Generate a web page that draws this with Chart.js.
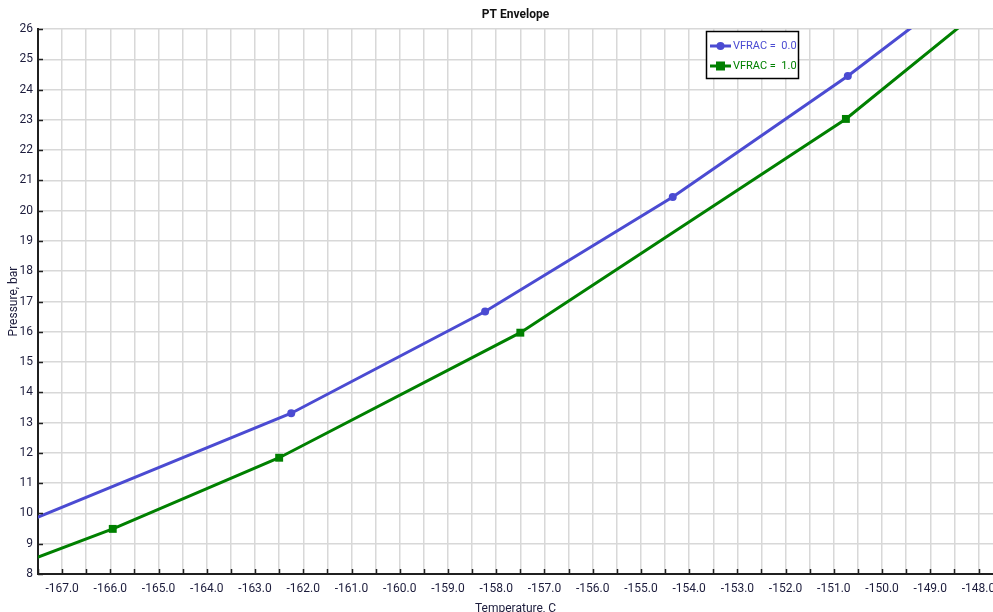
<!DOCTYPE html>
<html>
<head>
<meta charset="utf-8">
<title>PT Envelope</title>
<script src="https://cdn.jsdelivr.net/npm/chart.js@4/dist/chart.umd.min.js"></script>
<style>
  html, body { margin: 0; padding: 0; background: #ffffff; }
  #wrap { width: 993px; height: 612px; position: relative; }
</style>
</head>
<body>
<div id="wrap"><canvas id="chart" width="993" height="612"></canvas></div>
<script>
// Phase envelope: bubble line (VFRAC = 0.0) and dew line (VFRAC = 1.0)
const bubbleTemp  = [-168.0, -162.25, -158.23, -154.34, -150.71, -149.0];
const bubblePress = [9.55, 13.31, 16.67, 20.45, 24.45, 26.52];
const bubbleMarks = [false, true, true, true, true, false];

const dewTemp  = [-168.0, -165.95, -162.50, -157.50, -150.75, -148.0];
const dewPress = [8.26, 9.49, 11.84, 15.97, 23.03, 26.58];
const dewMarks = [false, true, true, true, true, false];

const seriesNames = ['VFRAC =  0.0', 'VFRAC =  1.0'];
const chartTitle = 'PT Envelope';
const xTitle = 'Temperature, C';
const yTitle = 'Pressure, bar';

const FONT = "Roboto, 'Liberation Sans', sans-serif";
const BLUE = '#4b4bd2';
const GREEN = '#008000';
const TEXT = '#1c1c3c';

function pts(xs, ys) { return xs.map((x, i) => ({ x: x, y: ys[i] })); }

// Inward tick marks, titles and the boxed legend drawn onto the canvas
const decorations = {
  id: 'decorations',
  afterDraw(chart) {
    const ctx = chart.ctx;
    const a = chart.chartArea;
    const xs = chart.scales.x, ys = chart.scales.y;
    ctx.save();
    // tick marks pointing into the plot
    ctx.strokeStyle = '#202020';
    ctx.lineWidth = 1.5;
    ctx.beginPath();
    xs.ticks.forEach(t => {
      const px = Math.round(xs.getPixelForValue(t.value)) + 0.5;
      ctx.moveTo(px, a.bottom);
      ctx.lineTo(px, a.bottom - 5);
    });
    ys.ticks.forEach(t => {
      const py = Math.round(ys.getPixelForValue(t.value)) + 0.5;
      ctx.moveTo(a.left, py);
      ctx.lineTo(a.left + 5, py);
    });
    ctx.stroke();

    // chart title
    const cx = (a.left + a.right) / 2;
    ctx.fillStyle = '#111111';
    ctx.textAlign = 'center';
    ctx.textBaseline = 'middle';
    ctx.font = 'bold 12px ' + FONT;
    ctx.fillText(chartTitle, cx, 15);

    // axis titles
    ctx.font = '12px ' + FONT;
    ctx.fillStyle = TEXT;
    ctx.fillText(xTitle, cx, 609);
    ctx.save();
    ctx.translate(14, (a.top + a.bottom) / 2);
    ctx.rotate(-Math.PI / 2);
    ctx.fillText(yTitle, 0, 0);
    ctx.restore();

    // legend box
    const lx = 706, ly = 31, lw = 92, lh = 47;
    ctx.fillStyle = '#ffffff';
    ctx.fillRect(lx, ly, lw, lh);
    ctx.strokeStyle = '#000000';
    ctx.lineWidth = 1.5;
    ctx.strokeRect(lx + 0.5, ly + 0.5, lw, lh);
    const rows = [
      { name: seriesNames[0], color: BLUE, style: 'circle', y: 46 },
      { name: seriesNames[1], color: GREEN, style: 'rect', y: 66 }
    ];
    rows.forEach(r => {
      ctx.strokeStyle = r.color;
      ctx.lineWidth = 3;
      ctx.beginPath();
      ctx.moveTo(710, r.y);
      ctx.lineTo(731, r.y);
      ctx.stroke();
      ctx.fillStyle = r.color;
      if (r.style === 'circle') {
        ctx.beginPath();
        ctx.arc(720.5, r.y, 4, 0, Math.PI * 2);
        ctx.fill();
      } else {
        ctx.fillRect(716, r.y - 4.5, 9, 9);
      }
      ctx.font = '11px ' + FONT;
      ctx.textAlign = 'left';
      ctx.textBaseline = 'middle';
      ctx.fillText(r.name, 733, r.y);
    });
    ctx.restore();
  }
};

new Chart(document.getElementById('chart'), {
  type: 'scatter',
  data: {
    datasets: [
      {
        label: seriesNames[0],
        data: pts(bubbleTemp, bubblePress),
        showLine: true,
        borderColor: BLUE,
        backgroundColor: BLUE,
        borderWidth: 3,
        tension: 0,
        pointStyle: 'circle',
        pointRadius: bubbleMarks.map(m => m ? 4 : 0),
        pointBorderWidth: 0,
        pointHoverRadius: 0
      },
      {
        label: seriesNames[1],
        data: pts(dewTemp, dewPress),
        showLine: true,
        borderColor: GREEN,
        backgroundColor: GREEN,
        borderWidth: 3,
        tension: 0,
        pointStyle: 'rect',
        pointRadius: dewMarks.map(m => m ? 5.6 : 0),
        pointBorderWidth: 0,
        pointHoverRadius: 0
      }
    ]
  },
  options: {
    responsive: false,
    animation: false,
    devicePixelRatio: 1,
    layout: { padding: { top: 29, left: 0, right: 0, bottom: 0 } },
    plugins: {
      legend: { display: false },
      title: { display: false },
      tooltip: { enabled: false }
    },
    scales: {
      x: {
        type: 'linear',
        min: -167.5,
        max: -147.7,
        afterFit(s) { s.height = 38; s.paddingLeft = 0; s.paddingRight = 0; },
        border: { display: true, color: '#202020', width: 2 },
        grid: { color: '#d8d8d8', lineWidth: 1.5, drawTicks: false },
        ticks: {
          stepSize: 0.5,
          includeBounds: false,
          autoSkip: false,
          maxRotation: 0,
          padding: 8,
          color: TEXT,
          font: { family: FONT, size: 12 },
          callback: v => (Math.abs(v % 1) < 1e-9 ? v.toFixed(1) : '')
        }
      },
      y: {
        type: 'linear',
        min: 8,
        max: 26,
        afterFit(s) { s.width = 38; s.paddingTop = 0; s.paddingBottom = 0; },
        border: { display: true, color: '#202020', width: 2 },
        grid: { color: '#d8d8d8', lineWidth: 1.5, drawTicks: false },
        ticks: {
          stepSize: 1,
          autoSkip: false,
          padding: 5,
          color: TEXT,
          font: { family: FONT, size: 12 }
        }
      }
    }
  },
  plugins: [decorations]
});
</script>
</body>
</html>
